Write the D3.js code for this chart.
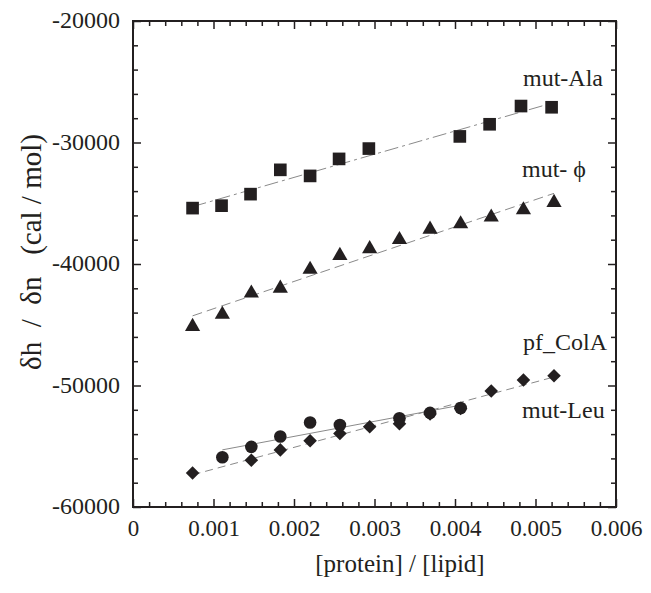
<!DOCTYPE html>
<html>
<head>
<meta charset="utf-8">
<script src="https://cdn.jsdelivr.net/npm/d3@7"></script>
<style>
  body { margin: 0; background: #fff; }
  text { font-family: "Liberation Serif", "Times New Roman", serif; fill: #231f20; }
</style>
</head>
<body>
<div id="chart"></div>
<script>
// values
const xTicks = [0, 0.001, 0.002, 0.003, 0.004, 0.005, 0.006]
const yTicks = [-60000, -50000, -40000, -30000, -20000]

const alaX = [0.00074, 0.00110, 0.00146, 0.00183, 0.00220, 0.00256, 0.00293, 0.00406, 0.00443, 0.00482, 0.00520]
const alaY = [-35400, -35200, -34250, -32250, -32750, -31350, -30500, -29500, -28500, -27000, -27100]

const phiX = [0.00074, 0.00111, 0.00147, 0.00183, 0.00220, 0.00257, 0.00294, 0.00331, 0.00369, 0.00407, 0.00445, 0.00485, 0.00523]
const phiY = [-45150, -44150, -42400, -42000, -40450, -39300, -38750, -38000, -37150, -36700, -36150, -35550, -34950]

const leuX = [0.00074, 0.00147, 0.00183, 0.00220, 0.00257, 0.00294, 0.00331, 0.00369, 0.00407, 0.00445, 0.00485, 0.00523]
const leuY = [-57200, -56150, -55300, -54550, -53950, -53400, -53150, -52350, -51900, -50450, -49550, -49200]

const colaX = [0.00111, 0.00147, 0.00183, 0.00220, 0.00257, 0.00331, 0.00369, 0.00407]
const colaY = [-55900, -55050, -54200, -53050, -53250, -52700, -52250, -51850]

const width = 651, height = 593
const margin = { top: 21, right: 35, bottom: 86, left: 133 }
const w = width - margin.left - margin.right
const h = height - margin.top - margin.bottom
const ink = '#231f20'
const serif = '"Liberation Serif", "Times New Roman", serif'

const svg = d3.select('#chart').append('svg')
  .attr('width', width).attr('height', height)

const g = svg.append('g')
  .attr('transform', 'translate(' + margin.left + ',' + margin.top + ')')

const x = d3.scaleLinear().domain([0, 0.006]).range([0, w])
const y = d3.scaleLinear().domain([-60000, -20000]).range([h, 0])

const xMinor = d3.range(0, 0.00601, 0.0002).filter(v => Math.abs(v * 1000 - Math.round(v * 1000)) > 1e-6)
const yMinor = d3.range(-60000, -19999, 2000).filter(v => v % 10000 !== 0)

// frame ticks, all pointing inward
function tickAxis(axis, sel) {
  sel.call(axis)
  sel.attr('font-family', null)
  sel.select('.domain').remove()
  sel.selectAll('line').attr('stroke', ink).attr('stroke-width', 1.5)
  return sel
}

const fmtX = d => d === 0 ? '0' : d3.format('.3f')(d)
const fmtY = d => String(d)  // plain hyphen, like the original

tickAxis(d3.axisBottom(x).tickValues(xTicks).tickSize(-8).tickPadding(13).tickFormat(fmtX),
  g.append('g').attr('transform', 'translate(0,' + h + ')'))
  .selectAll('text').style('font-size', '23px').style('font-family', serif).attr('fill', ink)
tickAxis(d3.axisBottom(x).tickValues(xMinor).tickSize(-5).tickFormat(''),
  g.append('g').attr('transform', 'translate(0,' + h + ')'))
tickAxis(d3.axisTop(x).tickValues(xTicks).tickSize(-8).tickFormat(''), g.append('g'))
tickAxis(d3.axisTop(x).tickValues(xMinor).tickSize(-5).tickFormat(''), g.append('g'))

tickAxis(d3.axisLeft(y).tickValues(yTicks).tickSize(-8).tickPadding(13).tickFormat(fmtY),
  g.append('g'))
  .selectAll('text').style('font-size', '24px').style('font-family', serif).attr('fill', ink)
  .attr('dy', '0.28em')
tickAxis(d3.axisLeft(y).tickValues(yMinor).tickSize(-5).tickFormat(''), g.append('g'))
tickAxis(d3.axisRight(y).tickValues(yTicks).tickSize(-8).tickFormat(''),
  g.append('g').attr('transform', 'translate(' + w + ',0)'))
tickAxis(d3.axisRight(y).tickValues(yMinor).tickSize(-5).tickFormat(''),
  g.append('g').attr('transform', 'translate(' + w + ',0)'))

g.append('rect')
  .attr('width', w).attr('height', h)
  .attr('fill', 'none').attr('stroke', ink).attr('stroke-width', 2)

// least squares fit lines across each series' range
function fit(xs, ys) {
  const mx = d3.mean(xs), my = d3.mean(ys)
  const b = d3.sum(xs, (v, i) => (v - mx) * (ys[i] - my)) / d3.sum(xs, v => (v - mx) * (v - mx))
  const a = my - b * mx
  return d3.extent(xs).map(v => [v, a + b * v])
}

const line = d3.line().x(d => x(d[0])).y(d => y(d[1]))

const series = [
  { xs: alaX, ys: alaY, sym: d3.symbolSquare, size: 160, rot: 0, dash: '14,4,3,4' },
  { xs: phiX, ys: phiY, sym: d3.symbolTriangle, size: 100, rot: 0, dash: '10,5' },
  { xs: leuX, ys: leuY, sym: d3.symbolSquare, size: 92, rot: 45, dash: '8,5' },
  { xs: colaX, ys: colaY, sym: d3.symbolCircle, size: 125, rot: 0, dash: null }
]

series.forEach(s => {
  g.append('path')
    .attr('d', line(fit(s.xs, s.ys)))
    .attr('fill', 'none')
    .attr('stroke', '#8a8a8a')
    .attr('stroke-width', 1)
    .attr('stroke-dasharray', s.dash)
})

series.forEach(s => {
  g.append('g').selectAll('path')
    .data(s.xs.map((v, i) => [v, s.ys[i]]))
    .enter().append('path')
    .attr('transform', d => 'translate(' + x(d[0]) + ',' + y(d[1]) + ') rotate(' + s.rot + ')')
    .attr('d', d3.symbol().type(s.sym).size(s.size))
    .attr('fill', ink)
})

// series labels
const labels = [
  { t: 'mut-Ala', x: 523, y: 86 },
  { t: 'mut- ϕ', x: 522, y: 177 },
  { t: 'pf_ColA', x: 523, y: 350 },
  { t: 'mut-Leu', x: 522, y: 418 }
]
svg.selectAll('.lab').data(labels).enter().append('text')
  .attr('class', 'lab')
  .attr('x', d => d.x).attr('y', d => d.y)
  .style('font-size', '24px')
  .style('white-space', 'pre')
  .text(d => d.t)

// axis titles
svg.append('text')
  .attr('x', 400).attr('y', 572)
  .attr('text-anchor', 'middle')
  .style('font-size', '25px')
  .text('[protein] / [lipid]')

svg.append('text')
  .attr('transform', 'translate(41,252) rotate(-90)')
  .attr('text-anchor', 'middle')
  .style('font-size', '29px')
  .style('white-space', 'pre')
  .text('δh  /  δn   (cal / mol)')
</script>
</body>
</html>
